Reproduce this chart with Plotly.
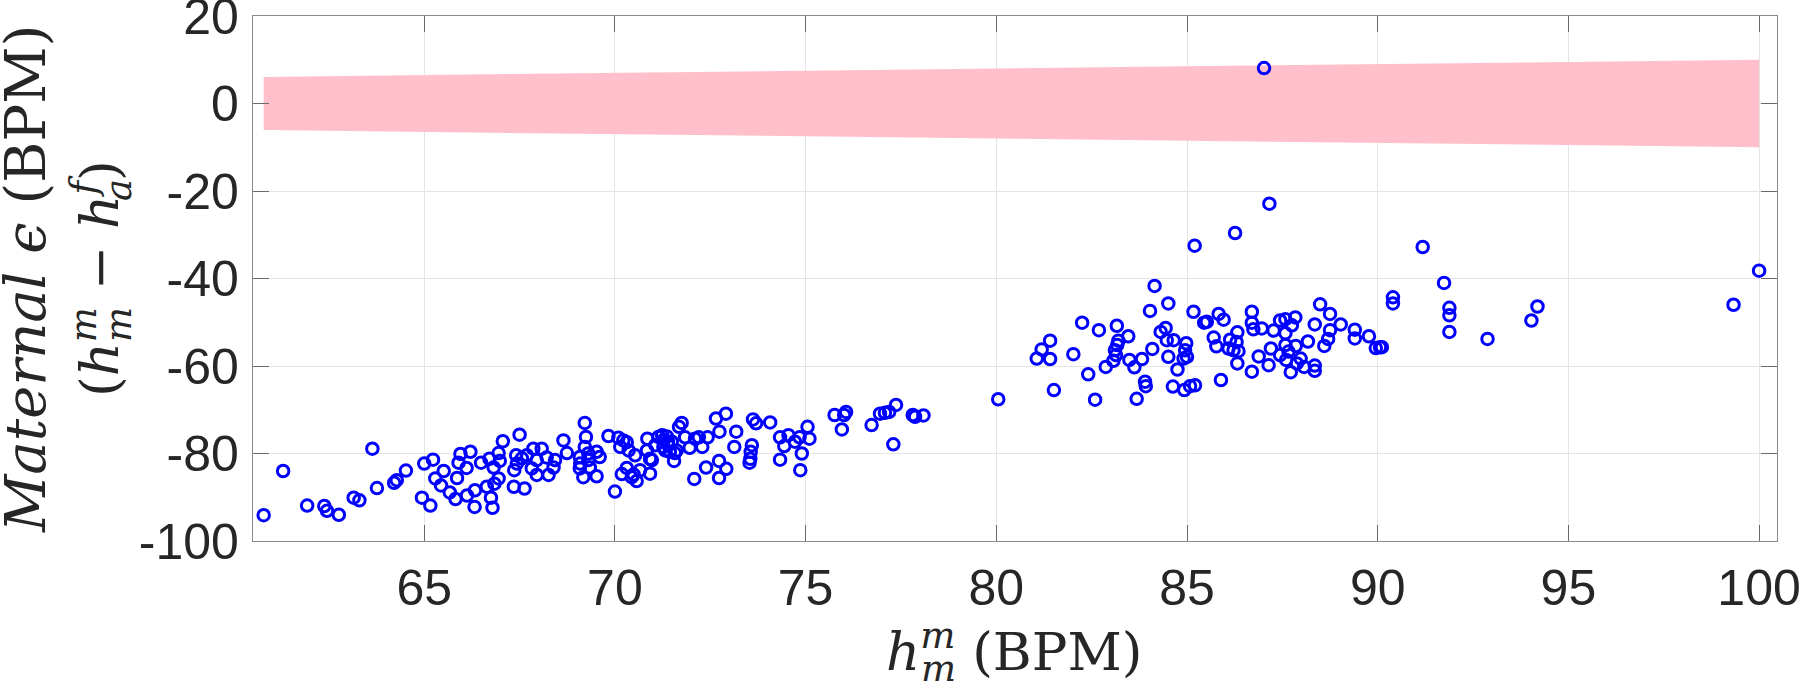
import plotly.graph_objects as go

# ---- data ----
hm_low = [60.79, 61.30, 61.93, 62.38, 62.45, 62.76, 63.15, 63.30, 63.64, 63.76,
          64.21, 64.28, 64.52, 64.94, 65.00, 65.16, 65.23, 65.29, 65.44, 65.51,
          65.67, 65.82, 65.86, 65.90, 65.95, 66.11, 66.12, 66.21, 66.32, 66.33,
          66.49, 66.64, 66.71, 66.75, 66.79, 66.82, 66.84, 66.95, 66.98, 66.95,
          67.06, 67.35, 67.63, 67.50, 67.36, 67.43, 67.41, 67.56, 67.69, 67.82,
          67.86, 67.95, 67.95, 68.08, 68.21, 68.26, 68.39, 68.43, 68.65, 68.74,
          69.21, 69.24, 69.21, 69.08, 69.09, 69.08, 69.17, 69.30, 69.30, 69.34,
          69.52, 69.60, 69.52, 70.00, 69.83, 70.09, 70.14, 70.22, 70.31, 70.36,
          70.53, 70.18, 70.31, 70.49, 70.44, 70.57, 70.66, 70.85, 70.84, 70.92,
          70.97, 70.92, 71.06, 71.14, 71.24, 71.28, 71.36, 71.39, 71.40, 71.27,
          71.32, 71.44, 71.49, 71.57, 71.62, 71.55, 71.68, 71.75, 71.84, 71.96,
          72.10, 72.20, 72.08, 72.29, 72.39, 72.43, 72.65, 72.74, 72.91, 72.73,
          72.73, 72.92, 73.13, 73.18, 73.53, 73.55, 73.56, 73.59, 73.62, 73.70,
          74.07, 74.33, 74.33, 74.44, 74.55, 74.72, 74.84, 74.90, 74.86, 75.05,
          75.10, 75.76, 75.95, 76.01, 76.06, 76.73, 76.95, 77.08, 77.19, 77.37,
          77.30, 77.81, 77.87, 78.09, 80.05]
err_low = [-94.1, -84.0, -91.9, -92.0, -93.1, -94.0, -90.1, -90.7, -78.9, -87.9,
           -86.7, -86.1, -83.9, -90.1, -82.3, -91.9, -81.4, -85.7, -87.3, -84.0,
           -88.9, -90.4, -85.6, -82.1, -80.1, -83.3, -89.6, -79.6, -92.2, -88.4,
           -82.1, -87.6, -81.2, -90.1, -92.4, -83.2, -86.9, -79.9, -81.7, -85.7,
           -77.2, -87.6, -88.0, -75.7, -83.8, -82.3, -80.4, -81.1, -80.4, -83.4,
           -78.9, -84.9, -81.5, -78.9, -80.9, -84.9, -83.2, -81.5, -77.0, -79.9,
           -73.0, -76.2, -78.5, -80.8, -82.3, -83.4, -85.4, -81.5, -80.0, -83.2,
           -79.6, -80.8, -85.2, -88.7, -76.0, -76.4, -78.5, -77.0, -77.4, -79.3,
           -80.4, -84.7, -83.3, -84.8, -85.4, -86.3, -83.8, -76.6, -79.3, -81.2,
           -81.5, -84.6, -78.1, -76.2, -75.8, -76.9, -76.1, -77.3, -78.1, -78.5,
           -79.3, -79.6, -77.3, -79.9, -79.3, -81.7, -73.9, -73.0, -76.3, -78.7,
           -76.6, -76.3, -85.8, -78.5, -83.2, -76.3, -72.0, -75.0, -70.9, -81.7,
           -85.6, -83.5, -78.5, -75.0, -82.1, -81.2, -79.6, -78.1, -72.2, -73.1,
           -72.9, -76.3, -81.4, -78.3, -75.8, -77.3, -76.3, -80.0, -83.8, -73.9,
           -76.6, -71.2, -74.5, -71.2, -70.5, -73.5, -70.9, -70.7, -70.5, -68.9,
           -77.9, -71.2, -71.6, -71.3, -67.6]

hm_high = [81.06, 81.19, 81.41, 81.41, 81.51, 82.02, 82.25, 82.41, 82.59, 82.69,
           82.87, 83.07, 83.16, 83.11, 83.17, 83.20, 83.14, 83.46, 83.49, 83.62,
           83.68, 83.82, 83.90, 83.92, 84.03, 84.09, 84.15, 84.31, 84.44, 84.47,
           84.51, 84.51, 84.65, 84.63, 84.75, 84.91, 84.93, 84.98, 84.95, 85.00,
           85.08, 85.21, 85.17, 85.45, 85.52, 85.70, 85.77, 85.83, 85.89, 85.96,
           86.09, 86.13, 86.22, 86.32, 86.30, 86.32, 86.35, 86.70, 86.70, 86.74,
           86.70, 86.88, 86.96, 87.14, 87.20, 87.27, 87.44, 87.44, 87.58, 87.58,
           87.58, 87.66, 87.60, 87.72, 87.84, 87.88, 87.75, 87.85, 87.98, 88.07,
           88.17, 88.35, 88.35, 88.35, 88.49, 88.60, 88.70, 88.75, 88.75, 89.03,
           89.40, 89.40, 89.77, 89.95, 90.06, 90.11, 90.40, 90.40, 91.18, 91.74,
           91.88, 91.88, 91.88, 92.88, 94.03, 94.19, 99.33, 100.00,
           85.20, 86.26, 87.16, 87.02]
err_high = [-58.3, -56.2, -54.2, -58.4, -65.5, -57.3, -50.1, -61.9, -67.7, -51.8,
            -60.2, -58.8, -50.8, -56.4, -55.2, -54.2, -57.5, -53.2, -58.6, -60.3,
            -67.5, -58.4, -63.6, -64.6, -47.4, -56.1, -41.7, -52.2, -51.3, -54.1,
            -45.7, -57.9, -54.1, -64.7, -60.8, -58.3, -65.5, -54.8, -56.4, -57.9,
            -64.6, -64.4, -47.6, -50.1, -49.9, -53.5, -55.5, -48.1, -63.2, -49.4,
            -56.0, -54.0, -56.4, -52.3, -54.5, -59.4, -56.6, -47.6, -50.1, -51.6,
            -61.3, -57.8, -51.4, -59.8, -56.0, -51.9, -49.6, -57.5, -49.3, -52.5,
            -55.2, -56.7, -58.6, -61.4, -48.9, -59.4, -50.7, -55.4, -58.3, -60.2,
            -54.4, -50.5, -59.9, -61.1, -45.9, -55.4, -53.8, -48.1, -51.8, -50.5,
            -51.7, -53.7, -53.2, -55.9, -55.7, -55.7, -44.3, -45.7, -32.8, -41.0,
            -46.7, -48.4, -52.2, -53.8, -49.6, -46.4, -46.0, -38.2,
            -32.5, -29.6, -22.9, 8.1]

# +/- 10 % tolerance band (end points)
band_x = [60.79, 100.0]
band_upper = [6.08, 10.0]
band_lower = [-6.08, -10.0]

x_ticks = [65, 70, 75, 80, 85, 90, 95, 100]
y_ticks = [-100, -80, -60, -40, -20, 0, 20]

W, H = 1800, 682
ML, MR, MT, MB = 253, 23, 16, 141
PW, PH = W - ML - MR, H - MT - MB


def px(xp):
    return (xp - ML) / PW


def py(yp):
    return (H - MB - yp) / PH


fig = go.Figure()
fig.add_trace(go.Scatter(
    x=band_x + band_x[::-1], y=band_upper + band_lower[::-1],
    fill="toself", fillcolor="#ffc0cb", mode="lines",
    line=dict(width=0, color="#ffc0cb"), hoverinfo="skip", showlegend=False))
fig.add_trace(go.Scatter(
    x=hm_low + hm_high, y=err_low + err_high, mode="markers",
    marker=dict(symbol="circle-open", size=11.5, color="#0000ff",
                line=dict(width=3, color="#0000ff")),
    showlegend=False))

axis_common = dict(
    showgrid=True, gridcolor="#e4e4e4", gridwidth=1,
    showline=True, linecolor="#8a8a8a", linewidth=1.3, mirror="ticks",
    ticks="inside", ticklen=16, tickwidth=1.3, tickcolor="#6a6a6a",
    zeroline=False, ticklabeloverflow="allow", automargin=False,
    tickfont=dict(family="Liberation Sans, Arial", size=50, color="#262626"),
)
fig.update_xaxes(range=[60.51, 100.47], tickvals=x_ticks,
                 ticktext=[str(v) for v in x_ticks], ticklabelstandoff=3,
                 **axis_common)
fig.update_yaxes(range=[-100, 20], tickvals=y_ticks,
                 ticktext=[str(v) for v in y_ticks], ticklabelstandoff=3,
                 **axis_common)

FS = 53
lab_font = dict(family="DejaVu Serif", size=FS, color="#262626")
big_font = dict(family="DejaVu Serif", size=56, color="#262626")
small_font = dict(family="DejaVu Serif", size=round(FS * 0.7), color="#262626")


def ann(text, x, y, font, angle=0, xanchor="center"):
    return dict(text=text, textangle=angle, xref="paper", yref="paper",
                x=px(x), y=py(y), xanchor=xanchor, yanchor="middle",
                showarrow=False, font=font)


fig.update_layout(
    width=W, height=H, margin=dict(l=ML, r=MR, t=MT, b=MB, pad=0, autoexpand=False),
    plot_bgcolor="white", paper_bgcolor="white",
    annotations=[
        # x label: h^m_m (BPM)
        ann("<i>h</i><sup><i>m</i></sup> (BPM)", 884, 648, lab_font, xanchor="left"),
        ann("<i>m</i>", 938, 668, small_font),
        # y label, line 1
        ann("<i>Maternal</i> <i>ϵ</i> (BPM)", 25, 279, big_font, angle=-90),
        # y label, line 2: (h^m_m − h^f_a)
        ann("(<i>h</i><sup><i>m</i></sup> − <i>h</i><sup><i>f</i></sup>)",
            96, 279, lab_font, angle=-90),
        ann("<i>m</i>", 118, 325, small_font, angle=-90),
        ann("<i>a</i>", 118, 190, small_font, angle=-90),
    ],
)

fig.write_html("out.html", config={"displayModeBar": False},
               post_script="document.body.style.margin='0';")
